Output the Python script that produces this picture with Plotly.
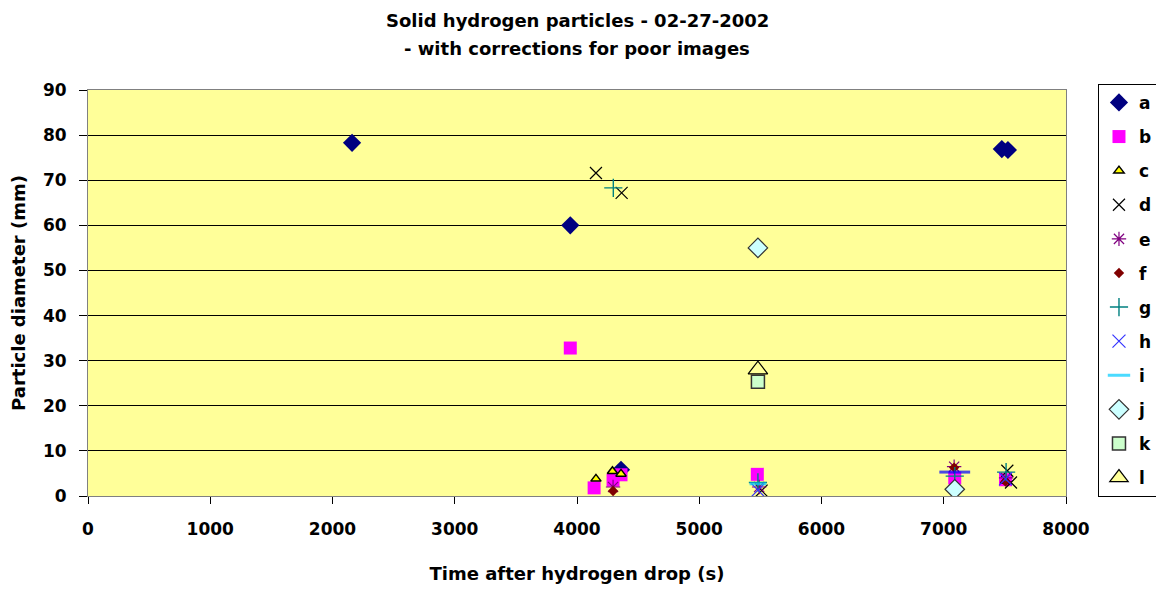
import plotly.graph_objects as go

# Data (time after hydrogen drop in s, particle diameter in mm)
a_x = [2160, 3945, 4360, 7475, 7525]
a_y = [78.3, 60.0, 5.8, 76.9, 76.7]
b_x = [3945, 4140, 4295, 4360, 5475, 7090, 7505]
b_y = [32.8, 1.8, 3.5, 4.7, 4.8, 4.0, 3.6]
c_x = [4155, 4290, 4360, 7505]
c_y = [3.8, 5.5, 4.9, 3.3]
d_x = [4155, 4365, 5510, 7520, 7550]
d_y = [71.6, 67.2, 1.2, 5.6, 3.0]
e_x = [4295, 5490, 7085, 7510]
e_y = [2.0, 2.0, 6.5, 4.0]
f_x = [4295, 7085, 7505]
f_y = [1.1, 6.3, 3.2]
g_x = [4297, 5480, 7090, 7510]
g_y = [68.3, 3.0, 4.4, 5.3]
h_x = [5480, 7505]
h_y = [1.3, 3.8]
i_x = [5480, 7090]
i_y = [2.7, 5.3]
j_x = [5480, 7090]
j_y = [55.0, 1.5]
k_x = [5480]
k_y = [25.3]
l_x = [5480]
l_y = [28.0]

x_ticks = [0, 1000, 2000, 3000, 4000, 5000, 6000, 7000, 8000]
y_ticks = [0, 10, 20, 30, 40, 50, 60, 70, 80, 90]
title_lines = ["Solid hydrogen particles - 02-27-2002", "- with corrections for poor images"]

series = [
    ("a", a_x, a_y, dict(symbol="diamond", size=14, color="#000080", line=dict(width=0))),
    ("b", b_x, b_y, dict(symbol="square", size=13, color="#FF00FF", line=dict(width=0))),
    ("c", c_x, c_y, dict(symbol="triangle-up", size=9, color="#FFFF00", line=dict(width=1.5, color="#000000"))),
    ("d", d_x, d_y, dict(symbol="x-thin", size=12, color="#000000", line=dict(width=1.2, color="#000000"))),
    ("e", e_x, e_y, dict(symbol="asterisk", size=12, color="#800080", line=dict(width=1.2, color="#800080"))),
    ("f", f_x, f_y, dict(symbol="diamond", size=8, color="#800000", line=dict(width=0))),
    ("g", g_x, g_y, dict(symbol="cross-thin", size=13, color="#008080", line=dict(width=1.4, color="#008080"))),
    ("h", h_x, h_y, dict(symbol="x-thin", size=13, color="#3333FF", line=dict(width=1.2, color="#3333FF"))),
    ("i", i_x, i_y, dict(symbol="line-ew", size=[12, 22], color="#00CCFF", line=dict(width=3, color=["#00CCFF", "#0000FF"]))),
    ("j", j_x, j_y, dict(symbol="diamond", size=15, color="#CCFFFF", line=dict(width=1.2, color="#333333"))),
    ("k", k_x, k_y, dict(symbol="square", size=13, color="#CCFFCC", line=dict(width=1.5, color="#333333"))),
    ("l", l_x, l_y, dict(symbol="triangle-up", size=17, color="#FFFF99", line=dict(width=1.2, color="#000000"))),
]

fig = go.Figure()
for name, xs, ys, mk in series:
    fig.add_trace(go.Scatter(x=xs, y=ys, mode="markers", name=f"<b>{name}</b>", marker=mk,
                             legendgroup=name))

font_family = "DejaVu Sans, Verdana, sans-serif"
tick_font = dict(size=17, family=font_family, color="#000000")

# page body has an 8px margin; figure sized to fit the window
W, H = 1156, 582
ML, MT, MR, MB = 80, 82, 98, 94
plot_h = H - MT - MB

fig.add_annotation(text=f"<b>{title_lines[0]}</b>", xref="paper", yref="paper",
                   x=0.5, y=(H - MB - 12) / plot_h, showarrow=False,
                   font=dict(size=18, family=font_family), yanchor="middle")
fig.add_annotation(text=f"<b>{title_lines[1]}</b>", xref="paper", yref="paper",
                   x=0.5, y=(H - MB - 40) / plot_h, showarrow=False,
                   font=dict(size=18, family=font_family), yanchor="middle")

fig.update_layout(
    width=W, height=H,
    margin=dict(l=ML, r=MR, t=MT, b=MB, autoexpand=False),
    paper_bgcolor="#FFFFFF",
    plot_bgcolor="#FFFF99",
    font=dict(family=font_family, size=17, color="#000000"),
    showlegend=True,
    legend=dict(x=1.0327, xanchor="left", y=1.015, yanchor="top",
                bordercolor="#000000", borderwidth=1, bgcolor="#FFFFFF",
                font=dict(size=17, family=font_family),
                tracegroupgap=9, itemwidth=30, maxheight=560),
    xaxis=dict(range=[0, 8000], tickvals=x_ticks,
               ticktext=[f"<b>{t}</b>" for t in x_ticks], tickfont=tick_font,
               showgrid=False, zeroline=False, automargin=False,
               showline=True, linecolor="#808080", linewidth=1, mirror=True,
               ticks="outside", ticklen=7, tickcolor="#000000", ticklabelstandoff=11,
               title=dict(text="<b>Time after hydrogen drop (s)</b>", font=dict(size=18), standoff=28)),
    yaxis=dict(range=[0, 90], tickvals=y_ticks,
               ticktext=[f"<b>{t}</b>" for t in y_ticks], tickfont=tick_font,
               showgrid=True, gridcolor="#000000", gridwidth=1.3, zeroline=False, automargin=False,
               showline=True, linecolor="#808080", linewidth=1, mirror=True,
               ticks="outside", ticklen=8, tickcolor="#000000", ticklabelstandoff=9,
               title=dict(text="<b>Particle diameter (mm)</b>", font=dict(size=18), standoff=12)),
)

fig.write_html("out.html")
